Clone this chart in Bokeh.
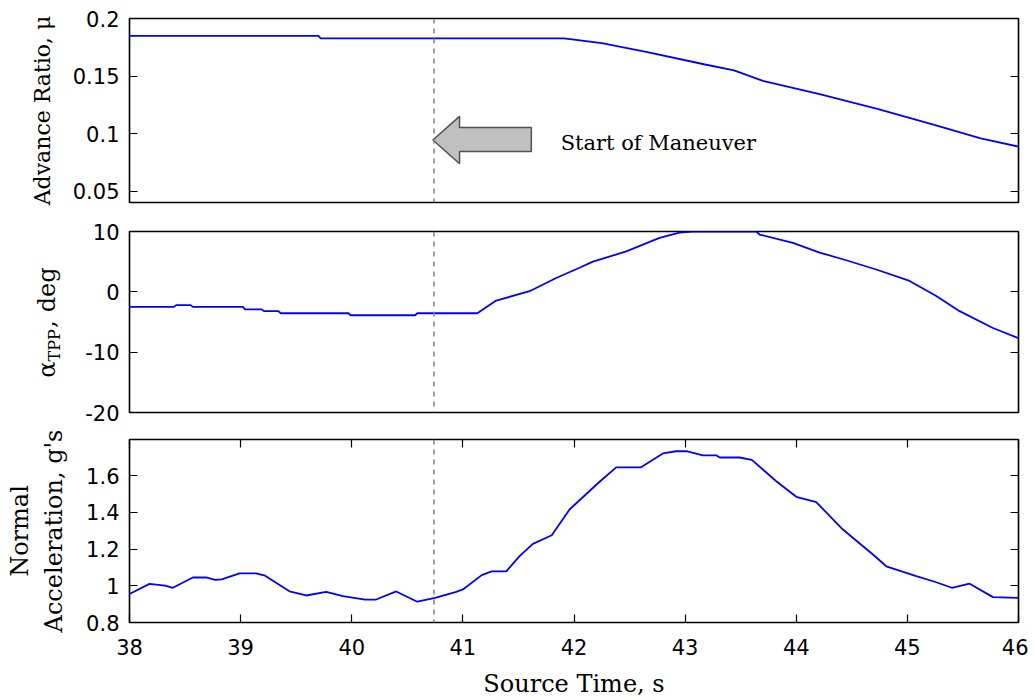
import math
from bokeh.plotting import figure
from bokeh.layouts import column, row
from bokeh.models import Range1d, FixedTicker, LinearAxis, Span, Label, CustomJSTickFormatter
from bokeh.embed import file_html
from bokeh.resources import INLINE

# ---------------- data ----------------
mu_t = [38.00, 39.70, 39.72, 41.91, 42.25, 42.66, 43.18, 43.44, 43.70, 44.21, 44.73, 45.25, 45.66, 46.00]
mu_v = [0.1849, 0.1849, 0.1828, 0.1828, 0.1785, 0.1708, 0.1600, 0.1549, 0.1457, 0.1343, 0.1215, 0.1072, 0.0958, 0.0886]

alpha_t = [38.00, 38.40, 38.42, 38.55, 38.57, 39.02, 39.04, 39.19, 39.21, 39.34,
           39.36, 39.97, 39.99, 40.57, 40.59, 41.13, 41.30, 41.60, 41.84, 42.05,
           42.17, 42.47, 42.77, 42.95, 43.07, 43.64, 43.67, 43.97, 44.21, 44.42,
           44.72, 45.02, 45.26, 45.47, 45.77, 46.00]
alpha_v = [-2.5, -2.5, -2.2, -2.2, -2.5, -2.5, -2.9, -2.9, -3.2, -3.2,
           -3.55, -3.55, -3.88, -3.88, -3.55, -3.55, -1.45, 0.1, 2.3, 4.0,
           5.0, 6.7, 8.95, 9.8, 10.0, 10.0, 9.5, 8.1, 6.5, 5.4,
           3.7, 1.8, -0.7, -3.2, -6.0, -7.7]

acc_t = [38.00, 38.18, 38.32, 38.39, 38.57, 38.69, 38.77, 38.83, 38.99, 39.14,
         39.22, 39.44, 39.59, 39.77, 39.92, 40.12, 40.22, 40.40, 40.59, 40.75,
         40.94, 41.00, 41.17, 41.26, 41.39, 41.51, 41.63, 41.80, 41.96, 42.23,
         42.38, 42.60, 42.80, 42.92, 43.02, 43.16, 43.28, 43.31, 43.49, 43.60,
         43.82, 44.00, 44.18, 44.42, 44.69, 44.81, 45.08, 45.26, 45.40, 45.56,
         45.77, 46.00]
acc_v = [0.955, 1.010, 1.001, 0.989, 1.045, 1.045, 1.032, 1.035, 1.067, 1.067,
         1.055, 0.970, 0.947, 0.967, 0.943, 0.925, 0.925, 0.969, 0.913, 0.934,
         0.967, 0.980, 1.058, 1.078, 1.078, 1.161, 1.228, 1.275, 1.415, 1.566,
         1.644, 1.644, 1.720, 1.732, 1.732, 1.710, 1.710, 1.698, 1.698, 1.685,
         1.569, 1.484, 1.455, 1.306, 1.170, 1.106, 1.052, 1.019, 0.989, 1.011,
         0.938, 0.934]

maneuver_t = 40.74

x_ticks = [38, 39, 40, 41, 42, 43, 44, 45, 46]
x_tick_labels = ["38", "39", "40", "41", "42", "43", "44", "45", "46"]
mu_ticks = [0.05, 0.1, 0.15, 0.2]
mu_tick_labels = ["0.05", "0.1", "0.15", "0.2"]
alpha_ticks = [-20, -10, 0, 10]
alpha_tick_labels = ["-20", "-10", "0", "10"]
acc_ticks = [0.8, 1.0, 1.2, 1.4, 1.6]
acc_tick_labels = ["0.8", "1", "1.2", "1.4", "1.6"]

# ---------------- styling ----------------
TICK_FONT = "DejaVu Sans"
TICK_SIZE = "21px"
LABEL_FONT = "DejaVu Serif"
LABEL_SIZE = "24px"
LINE_COLOR = "#0000ff"
LINE_W = 1.8
FRAME_W = 889
LEFT = 129

x_range = Range1d(38, 46)
empty_fmt = CustomJSTickFormatter(code="return ''")


def style_axis(ax, ticks, labels=None):
    ax.ticker = FixedTicker(ticks=ticks)
    ax.major_tick_in = 8
    ax.major_tick_out = 0
    ax.minor_tick_in = 0
    ax.minor_tick_out = 0
    ax.major_tick_line_color = "black"
    ax.major_tick_line_width = 1.2
    ax.axis_line_color = "black"
    ax.axis_line_width = 1.2
    ax.major_label_text_font = TICK_FONT
    ax.major_label_text_font_size = TICK_SIZE
    ax.major_label_text_color = "black"
    ax.axis_label_text_font = LABEL_FONT
    ax.axis_label_text_font_size = LABEL_SIZE
    ax.axis_label_text_font_style = "normal"
    ax.axis_label_text_color = "black"
    if labels is None:
        ax.formatter = empty_fmt
        ax.major_label_standoff = 0
    else:
        ax.major_label_overrides = {t: l for t, l in zip(ticks, labels)}
        ax.major_label_standoff = 10


def make_fig(frame_h, y0, y1, top, bottom, xaxis, left=LEFT):
    p = figure(frame_width=FRAME_W, frame_height=frame_h, x_range=x_range,
               y_range=Range1d(y0, y1), output_backend="svg", toolbar_location=None,
               x_axis_location="below" if xaxis else None, title=None,
               min_border_left=left, min_border_right=10,
               min_border_top=top, min_border_bottom=bottom)
    p.grid.visible = False
    p.outline_line_color = "black"
    p.outline_line_width = 1.5
    p.outline_line_alpha = 1.0
    p.background_fill_color = "white"
    p.border_fill_color = "white"
    p.add_layout(Span(location=maneuver_t, dimension="height", line_color="#808080",
                      line_dash="5 5", line_width=1.5))
    return p


# ---------- panel 1: advance ratio ----------
p1 = make_fig(184, 0.04, 0.2, 18, 14, False)
style_axis(p1.yaxis[0], mu_ticks, mu_tick_labels)
p1.yaxis[0].axis_label = "Advance Ratio, \u03bc"
p1.yaxis[0].axis_label_text_font_size = "22px"
p1.yaxis[0].axis_label_standoff = 15
r1 = LinearAxis()
style_axis(r1, mu_ticks)
p1.add_layout(r1, "right")
p1.line(mu_t, mu_v, line_color=LINE_COLOR, line_width=LINE_W)

# annotation arrow (pointing at the start of manoeuvre)
arrow_x = [40.73, 40.97, 40.97, 41.616, 41.616, 40.97, 40.97]
arrow_y = [0.0943, 0.1149, 0.1052, 0.1052, 0.0843, 0.0843, 0.0737]
p1.patch(arrow_x, arrow_y, fill_color="#c0c0c0", line_color="#505050", line_width=1.5)
p1.add_layout(Label(x=41.88, y=0.0917, text="Start of Maneuver", text_font=LABEL_FONT,
                    text_font_size="21px", text_baseline="middle", text_align="left",
                    text_color="black"))

# ---------- panel 2: alpha TPP ----------
LBL_W = 70
P2_H = 15 + 181 + 13
p2 = make_fig(181, -20, 10, 15, 13, False, left=LEFT - LBL_W)
style_axis(p2.yaxis[0], alpha_ticks, alpha_tick_labels)
r2 = LinearAxis()
style_axis(r2, alpha_ticks)
p2.add_layout(r2, "right")
p2.line(alpha_t, alpha_v, line_color=LINE_COLOR, line_width=LINE_W)

# side strip holding the y label with its subscript (pixel coordinates)
lbl = figure(width=LBL_W, height=P2_H, x_range=Range1d(0, LBL_W), y_range=Range1d(0, P2_H),
             output_backend="svg", toolbar_location=None, title=None,
             x_axis_location=None, y_axis_location=None,
             min_border_left=0, min_border_right=0, min_border_top=0, min_border_bottom=0)
lbl.grid.visible = False
lbl.outline_line_color = None
lbl.background_fill_color = "white"
lbl.border_fill_color = "white"
lab_kw = dict(angle=math.pi / 2, text_font=LABEL_FONT, text_baseline="alphabetic",
              text_align="left", text_color="black")
lbl.add_layout(Label(x=46, y=40, text="\u03b1", text_font_size="24px", **lab_kw))
lbl.add_layout(Label(x=54, y=59, text="TPP", text_font_size="16px", **lab_kw))
lbl.add_layout(Label(x=46, y=98, text=", deg", text_font_size="24px", **lab_kw))

# ---------- panel 3: normal acceleration ----------
p3 = make_fig(183, 0.8, 1.796, 14, 10, True)
style_axis(p3.yaxis[0], acc_ticks, acc_tick_labels)
p3.yaxis[0].axis_label = "Normal\nAcceleration, g's"
p3.yaxis[0].axis_label_standoff = 15
style_axis(p3.xaxis[0], x_ticks, x_tick_labels)
p3.xaxis[0].major_label_standoff = 16
p3.xaxis[0].axis_label = "Source Time, s"
p3.xaxis[0].axis_label_standoff = 12
r3 = LinearAxis()
style_axis(r3, acc_ticks)
p3.add_layout(r3, "right")
t3 = LinearAxis()
style_axis(t3, x_ticks)
p3.add_layout(t3, "above")
p3.line(acc_t, acc_v, line_color=LINE_COLOR, line_width=LINE_W)

layout = column(p1, row(lbl, p2, spacing=0), p3, spacing=0)
open("out.html", "w").write(file_html(layout, INLINE))
